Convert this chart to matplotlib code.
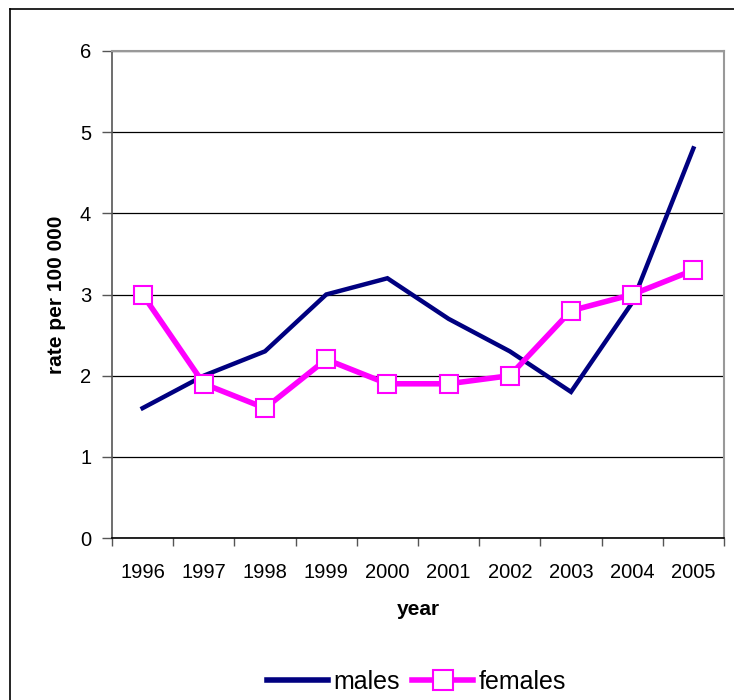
import matplotlib.pyplot as plt
from matplotlib.lines import Line2D

years = ["1996", "1997", "1998", "1999", "2000", "2001", "2002", "2003", "2004", "2005"]
males = [1.6, 2.0, 2.3, 3.0, 3.2, 2.7, 2.3, 1.8, 2.9, 4.8]
females = [3.0, 1.9, 1.6, 2.2, 1.9, 1.9, 2.0, 2.8, 3.0, 3.3]

plt.rcParams["font.family"] = ["Liberation Sans", "DejaVu Sans"]

fig = plt.figure(figsize=(7.34, 7.0), dpi=100)
ax = fig.add_axes([112 / 734, 1 - 538 / 700, (724 - 112) / 734, (538 - 51) / 700])

x = list(range(len(years)))
ax.plot(x, males, color="#000080", linewidth=3.2, solid_joinstyle="miter", zorder=3)
ax.plot(x, females, color="#ff00ff", linewidth=4, marker="s", markersize=13,
        markerfacecolor="white", markeredgecolor="#ff00ff", markeredgewidth=1.5, zorder=4)

ax.set_xlim(-0.5, len(years) - 0.5)
ax.set_ylim(0, 6)
ax.set_yticks(range(7))
ax.yaxis.grid(True, color="black", linewidth=0.9)
ax.set_axisbelow(True)

ax.set_xticks(x)
ax.set_xticklabels(years, fontsize=14.5)
ax.tick_params(axis="x", length=0, pad=18)
ax.set_xticks([i - 0.5 for i in range(len(years) + 1)], minor=True)
ax.tick_params(axis="x", which="minor", length=6, color="#555555", width=1)
ax.tick_params(axis="y", labelsize=14.5, length=7, color="#555555", width=1, pad=8)

for side in ("top", "right"):
    ax.spines[side].set_color("#999999")
    ax.spines[side].set_linewidth(1.5)
ax.spines["left"].set_color("#555555")
ax.spines["left"].set_linewidth(1.2)
ax.spines["bottom"].set_color("black")
ax.spines["bottom"].set_linewidth(1.2)

ax.set_ylabel("rate per 100 000", fontsize=15, fontweight="bold", labelpad=10)
ax.set_xlabel("year", fontsize=15, fontweight="bold", labelpad=13)

handles = [
    Line2D([], [], color="#000080", linewidth=4),
    Line2D([], [], color="#ff00ff", linewidth=4, marker="s", markersize=14,
           markerfacecolor="white", markeredgecolor="#ff00ff", markeredgewidth=1.5),
]
fig.legend(handles, ["males", "females"], loc="center", bbox_to_anchor=(0.567, 1 - 682 / 700),
           ncol=2, frameon=False, fontsize=18, handlelength=2.45, columnspacing=0.5,
           handletextpad=0.2)

# outer chart border (cropped at right and bottom)
fig.add_artist(Line2D([10 / 734, 1], [1 - 9 / 700, 1 - 9 / 700], color="black", linewidth=1.2,
                      transform=fig.transFigure))
fig.add_artist(Line2D([10 / 734, 10 / 734], [0, 1 - 9 / 700], color="black", linewidth=1.2,
                      transform=fig.transFigure))

fig.savefig("out.png", dpi=100)
